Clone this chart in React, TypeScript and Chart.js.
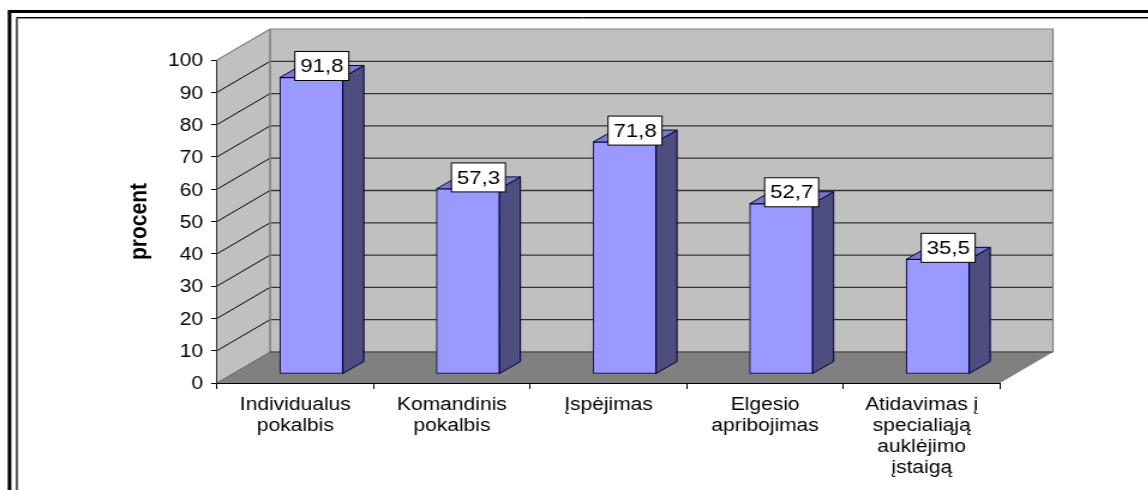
import React, { useEffect, useRef } from "react";
import { Chart, registerables } from "chart.js";

Chart.register(...registerables);

const categories: string[][] = [
  ["Individualus", "pokalbis"],
  ["Komandinis", "pokalbis"],
  ["Įspėjimas"],
  ["Elgesio", "apribojimas"],
  ["Atidavimas į", "specialiąją", "auklėjimo", "įstaigą"],
];
const percentValues: number[] = [91.8, 57.3, 71.8, 52.7, 35.5];
const yAxisTitle = "procent";

const SX = 1.2;
const cx = (px: number) => px / SX;
const CW = 957;
const CH = 490;
const DEPTH_X = cx(53);
const DEPTH_Y = -31;
const BAR_OX = cx(16);
const BAR_OY = -9;
const BAR_DX = cx(21);
const BAR_DY = -12;
const FONT = "Liberation Sans, Arial, sans-serif";

function line(ctx: CanvasRenderingContext2D, pts: number[][], color: string, width: number) {
  ctx.strokeStyle = color;
  ctx.lineWidth = width;
  ctx.beginPath();
  pts.forEach((p, i) => (i ? ctx.lineTo(p[0], p[1]) : ctx.moveTo(p[0], p[1])));
  ctx.stroke();
}
function poly(ctx: CanvasRenderingContext2D, pts: number[][], fill: string, stroke?: string, width = 1) {
  ctx.fillStyle = fill;
  ctx.beginPath();
  pts.forEach((p, i) => (i ? ctx.lineTo(p[0], p[1]) : ctx.moveTo(p[0], p[1])));
  ctx.closePath();
  ctx.fill();
  if (stroke) {
    ctx.strokeStyle = stroke;
    ctx.lineWidth = width;
    ctx.stroke();
  }
}

const scene3d = {
  id: "scene3d",
  beforeDraw(chart: any) {
    const { ctx, chartArea: a, scales } = chart;
    ctx.save();
    ctx.fillStyle = "#fff";
    ctx.fillRect(0, 0, CW, CH);
    // page frame
    line(ctx, [[cx(9.5), CH], [cx(9.5), 11.5], [CW, 11.5]], "#000", 3);
    line(ctx, [[cx(17.6), CH], [cx(17.6), 18.6], [CW, 18.6]], "#888", 1);
    line(ctx, [[cx(16.6), CH], [cx(16.6), 17.5], [CW, 17.5]], "#000", 1);
    const L = a.left, R = a.right, T = a.top, B = a.bottom;
    // walls
    poly(ctx, [[L + DEPTH_X, T + DEPTH_Y], [R + DEPTH_X, T + DEPTH_Y], [R + DEPTH_X, B + DEPTH_Y], [L + DEPTH_X, B + DEPTH_Y]], "#c0c0c0");
    poly(ctx, [[L, T], [L + DEPTH_X, T + DEPTH_Y], [L + DEPTH_X, B + DEPTH_Y], [L, B]], "#c0c0c0");
    poly(ctx, [[L, B], [R, B], [R + DEPTH_X, B + DEPTH_Y], [L + DEPTH_X, B + DEPTH_Y]], "#808080");
    // gridlines
    for (const t of scales.y.ticks) {
      const y = scales.y.getPixelForValue(t.value);
      if (t.value > 0 && t.value < 100) {
        line(ctx, [[L, y], [L + DEPTH_X, y + DEPTH_Y]], "#000", 1);
        line(ctx, [[L + DEPTH_X, y + DEPTH_Y], [R + DEPTH_X, y + DEPTH_Y]], "#333", 1.3);
      }
    }
    // edges
    line(ctx, [[L, T], [L + DEPTH_X, T + DEPTH_Y], [R + DEPTH_X, T + DEPTH_Y], [R + DEPTH_X, B + DEPTH_Y]], "#808080", 1.2);
    line(ctx, [[L + DEPTH_X, T + DEPTH_Y], [L + DEPTH_X, B + DEPTH_Y]], "#808080", 1.6);
    line(ctx, [[L + DEPTH_X, B + DEPTH_Y], [R + DEPTH_X, B + DEPTH_Y]], "#505050", 1.6);
    line(ctx, [[L, B], [L + DEPTH_X, B + DEPTH_Y]], "#666", 1);
    ctx.restore();
  },
  beforeDatasetDraw(chart: any, args: any) {
    const { ctx } = chart;
    ctx.save();
    ctx.translate(BAR_OX, BAR_OY);
    for (const el of args.meta.data) {
      const p = el.getProps(["x", "y", "base", "width"], true);
      const l = p.x - p.width / 2, r = p.x + p.width / 2;
      poly(ctx, [[r, p.y], [r + BAR_DX, p.y + BAR_DY], [r + BAR_DX, p.base + BAR_DY], [r, p.base]], "#4d4d80", "#000033", 1);
      poly(ctx, [[l, p.y], [l + BAR_DX, p.y + BAR_DY], [r + BAR_DX, p.y + BAR_DY], [r, p.y]], "#7a7acc", "#000033", 1);
    }
  },
  afterDatasetDraw(chart: any) {
    chart.ctx.restore();
  },
  afterDatasetsDraw(chart: any) {
    const { ctx } = chart;
    const meta = chart.getDatasetMeta(0);
    ctx.save();
    ctx.font = `18.5px ${FONT}`;
    ctx.textAlign = "center";
    ctx.textBaseline = "middle";
    meta.data.forEach((el: any, i: number) => {
      const p = el.getProps(["x", "y"], true);
      const bx = p.x + cx(26.5), by = p.y - 20.5;
      const w = cx(54), h = 29;
      ctx.fillStyle = "#fff";
      ctx.fillRect(bx - w / 2, by - h / 2, w, h);
      ctx.strokeStyle = "#000";
      ctx.lineWidth = 1;
      ctx.strokeRect(bx - w / 2, by - h / 2, w, h);
      ctx.fillStyle = "#000";
      ctx.fillText(percentValues[i].toFixed(1).replace(".", ","), bx, by + 1);
    });
    ctx.restore();
  },
};

// nudges the y tick labels down so digits sit centred on their tick
function nudgeLabels(s: any) {
  if (s._nudged) return;
  s._nudged = true;
  const orig = s._computeLabelItems;
  s._computeLabelItems = function (area: any) {
    return orig.call(s, area).map((it: any) => ({
      ...it,
      options: { ...it.options, translation: [it.options.translation[0], it.options.translation[1] + 1.5] },
    }));
  };
}

export default function App() {
  const ref = useRef<HTMLCanvasElement>(null);
  useEffect(() => {
    if (!ref.current) return;
    const chart = new Chart(ref.current, {
      type: "bar",
      data: {
        labels: categories,
        datasets: [
          {
            data: percentValues,
            backgroundColor: "#9999ff",
            borderColor: "#000033",
            borderWidth: 1,
            borderSkipped: false,
            barThickness: cx(63),
            clip: false,
          } as any,
        ],
      },
      options: {
        animation: false,
        responsive: false,
        devicePixelRatio: 1,
        layout: { padding: { left: 0, top: 60, right: CW - cx(1000), bottom: 0 } },
        plugins: { legend: { display: false }, tooltip: { enabled: false } },
        scales: {
          x: {
            afterFit: (s: any) => { s.height = CH - 383; },
            border: { color: "#000", width: 1 },
            grid: { drawOnChartArea: false, color: "#000", tickLength: 6 },
            ticks: {
              color: "#000",
              autoSkip: false,
              maxRotation: 0,
              minRotation: 0,
              padding: 6,
              font: { family: FONT, size: 17.5, lineHeight: 1.2 },
            },
          },
          y: {
            min: 0,
            max: 100,
            afterFit: (s: any) => { nudgeLabels(s); s.width = cx(217); },
            border: { color: "#333", width: 1 },
            grid: { drawOnChartArea: false, color: "#000", tickLength: cx(6) },
            title: {
              display: true,
              text: yAxisTitle,
              color: "#000",
              font: { family: FONT, size: 21, weight: "bold" },
              padding: { top: 104, bottom: 0 },
            },
            ticks: {
              color: "#000",
              stepSize: 10,
              padding: cx(8),
              font: { family: FONT, size: 17.5 },
            },
          },
        },
      },
      plugins: [scene3d],
    } as any);
    return () => chart.destroy();
  }, []);
  return (
    <div style={{ position: "fixed", left: 0, top: 0, width: 1148, height: 490, overflow: "hidden", background: "#fff" }}>
      <canvas
        ref={ref}
        width={CW}
        height={CH}
        style={{ position: "absolute", left: 0, top: 0, transformOrigin: "0 0", transform: `scaleX(${SX})` }}
      />
    </div>
  );
}
